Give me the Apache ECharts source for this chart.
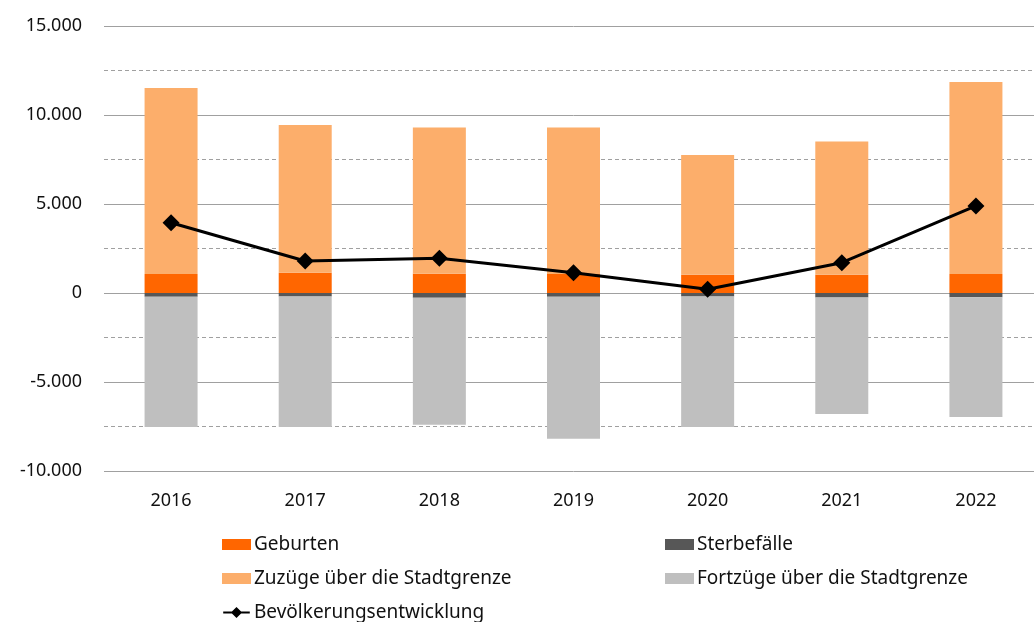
<!DOCTYPE html>
<html>
<head>
<meta charset="utf-8">
<script src="https://cdn.jsdelivr.net/npm/echarts@6/dist/echarts.min.js"></script>
<style>
html,body{margin:0;padding:0;background:#fff;overflow:hidden;}
#chart{width:1044px;height:622px;}
</style>
</head>
<body>
<div id="chart"></div>
<script>
// Jahre
var years = ['2016', '2017', '2018', '2019', '2020', '2021', '2022'];
// Werte
var geburten = [1070, 1140, 1085, 1070, 1030, 1030, 1070];
var zuzuege = [10450, 8300, 8215, 8230, 6720, 7480, 10780];
var sterbefaelle = [-210, -200, -260, -210, -200, -250, -240];
var fortzuege = [-7320, -7330, -7140, -7975, -7330, -6550, -6730];
var entwicklung = [3950, 1800, 1950, 1140, 210, 1700, 4890];

var font = '"Noto Sans", sans-serif';
var chart = echarts.init(document.getElementById('chart'));

// Tausenderpunkt wie im Original
function fmt(v) {
    var s = String(Math.abs(v)).replace(/\B(?=(\d{3})+(?!\d))/g, '.');
    return (v < 0 ? '-' : '') + s;
}

function bar(name, data, color) {
    return {
        name: name,
        type: 'bar',
        stack: 'summe',
        barWidth: 53,
        data: data,
        itemStyle: {color: color},
        emphasis: {disabled: true}
    };
}

var legendText = {fontFamily: font, fontSize: 19, color: '#111', padding: [0, 0, 0, -2]};
// Linie mit Raute fuer die Legende
var lineIcon = 'path://M0,4.5 L9.5,4.5 L14.5,-0.5 L19.5,4.5 L29,4.5 L29,6.5 L19.5,6.5 L14.5,11.5 L9.5,6.5 L0,6.5 Z';

chart.setOption({
    animation: false,
    grid: {left: 104, top: 26, width: 939, height: 445},
    legend: [{
        left: 222, top: 535,
        padding: 0,
        orient: 'vertical',
        itemGap: 15,
        itemWidth: 29, itemHeight: 11,
        textStyle: legendText,
        data: [{name: 'Geburten', icon: 'rect'},
            {name: 'Zuzüge über die Stadtgrenze', icon: 'rect'},
            {name: 'Bevölkerungsentwicklung', icon: lineIcon}]
    }, {
        left: 665, top: 535,
        padding: 0,
        orient: 'vertical',
        itemGap: 15,
        itemWidth: 29, itemHeight: 11,
        textStyle: legendText,
        data: [{name: 'Sterbefälle', icon: 'rect'},
            {name: 'Fortzüge über die Stadtgrenze', icon: 'rect'}]
    }],
    xAxis: {
        type: 'category',
        data: years,
        position: 'bottom',
        axisLine: {show: false, onZero: false},
        axisTick: {show: false},
        axisLabel: {fontFamily: font, fontSize: 18, color: '#111', margin: 21}
    },
    yAxis: {
        type: 'value',
        min: -10000, max: 15000, interval: 5000,
        axisLine: {show: false},
        axisTick: {show: false},
        axisLabel: {fontFamily: font, fontSize: 18, color: '#111', margin: 22, formatter: fmt},
        splitLine: {lineStyle: {color: '#a0a0a0', width: 1}},
        minorTick: {show: false, splitNumber: 2},
        minorSplitLine: {show: true, lineStyle: {color: '#a0a0a0', type: [4, 3], width: 1}}
    },
    series: [
        bar('Geburten', geburten, '#ff6600'),
        bar('Zuzüge über die Stadtgrenze', zuzuege, '#fcae6b'),
        bar('Sterbefälle', sterbefaelle, '#575757'),
        bar('Fortzüge über die Stadtgrenze', fortzuege, '#bfbfbf'),
        {
            name: 'Bevölkerungsentwicklung',
            type: 'line',
            data: entwicklung,
            symbol: 'diamond',
            symbolSize: 17,
            lineStyle: {color: '#000', width: 3},
            itemStyle: {color: '#000'},
            z: 5
        }
    ]
});
</script>
</body>
</html>
